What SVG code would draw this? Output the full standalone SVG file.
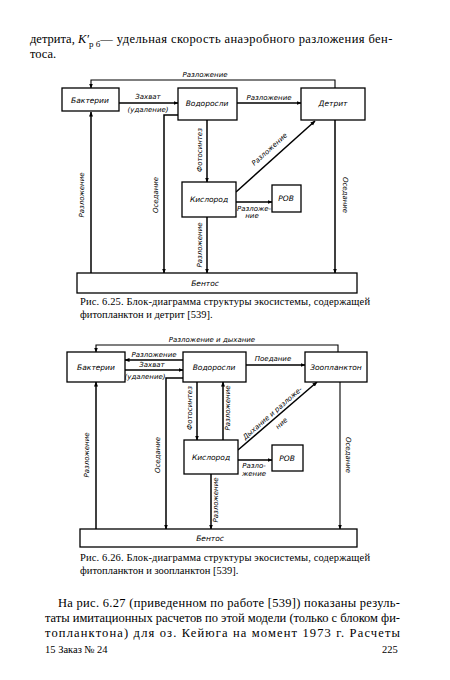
<svg xmlns="http://www.w3.org/2000/svg" width="450" height="680" viewBox="0 0 450 680">
<defs>
<marker id="ah" viewBox="0 0 10 10" refX="9" refY="5" markerWidth="5" markerHeight="5" orient="auto-start-reverse" markerUnits="userSpaceOnUse">
<path d="M0,1 L10,5 L0,9 z" fill="#000"/>
</marker>
<style>
.bg{fill:#fff}
.box{fill:#fff;stroke:#000;stroke-width:1.3}
.ln{fill:none;stroke:#000;stroke-width:1.5}
.lt{fill:none;stroke:#000;stroke-width:1.1}
.nt{font-family:"DejaVu Sans","Liberation Sans",sans-serif;font-style:italic;font-size:7.5px;text-anchor:middle;fill:#000}
.lb{font-family:"DejaVu Sans","Liberation Sans",sans-serif;font-style:italic;font-size:7px;text-anchor:middle;fill:#000}
.tx{font-family:"Liberation Serif","DejaVu Serif",serif;font-size:12.5px;fill:#000}
.cap{font-family:"Liberation Serif","DejaVu Serif",serif;font-size:10.5px;fill:#000}
</style>
</defs>
<rect class="bg" width="450" height="680"/>

<g id="text-top">
<text class="tx" x="30" y="43">детрита, <tspan font-style="italic">K′</tspan><tspan font-size="9" dy="4">р б</tspan><tspan dy="-4" textLength="292" lengthAdjust="spacing">— удельная скорость анаэробного разложения бен-</tspan></text>
<text class="tx" x="30" y="58">тоса.</text>
</g>

<!-- Diagram 1 -->
<g id="d1-connectors">
<polyline class="lt" points="335,88 335,80 91,80 91,88" marker-end="url(#ah)"/>
<line class="ln" x1="119" y1="103" x2="178" y2="103" marker-end="url(#ah)"/>
<line class="ln" x1="237" y1="103" x2="301" y2="103" marker-end="url(#ah)"/>
<polyline class="ln" points="178,115 164,115 164,273" marker-end="url(#ah)"/>
<line class="ln" x1="91" y1="273" x2="91" y2="112" marker-end="url(#ah)"/>
<line class="ln" x1="207" y1="120" x2="207" y2="182" marker-end="url(#ah)"/>
<line class="ln" x1="207" y1="217" x2="207" y2="273" marker-end="url(#ah)"/>
<line class="ln" x1="236" y1="202" x2="272" y2="202" marker-end="url(#ah)"/>
<line class="ln" x1="236" y1="192" x2="315" y2="121" marker-end="url(#ah)"/>
<line class="ln" x1="335" y1="120" x2="335" y2="273" marker-end="url(#ah)"/>
<text class="lb" x="205" y="77">Разложение</text>
<text class="lb" x="148" y="99">Захват</text>
<text class="lb" x="148" y="112">(удаление)</text>
<text class="lb" x="269" y="100">Разложение</text>
<text class="lb" transform="translate(84,195) rotate(-90)">Разложение</text>
<text class="lb" transform="translate(158,195) rotate(-90)">Оседание</text>
<text class="lb" transform="translate(202,150) rotate(-90)">Фотосинтез</text>
<text class="lb" transform="translate(202,245) rotate(-90)">Разложение</text>
<text class="lb" transform="translate(343,195) rotate(90)">Оседание</text>
<text class="lb" transform="translate(271,151) rotate(-42)">Разложение</text>
<text class="lb" x="254" y="211">Разложе-</text>
<text class="lb" x="252" y="218">ние</text>
</g>
<g id="d1-bacteria"><rect class="box" x="62" y="88" width="57" height="23"/><text class="nt" x="90" y="103">Бактерии</text></g>
<g id="d1-algae"><rect class="box" x="178" y="88" width="59" height="32"/><text class="nt" x="207" y="106">Водоросли</text></g>
<g id="d1-detritus"><rect class="box" x="301" y="88" width="64" height="32"/><text class="nt" x="333" y="106">Детрит</text></g>
<g id="d1-oxygen"><rect class="box" x="182" y="182" width="54" height="35"/><text class="nt" x="209" y="202">Кислород</text></g>
<g id="d1-rov"><rect class="box" x="272" y="185" width="29" height="27"/><text class="nt" x="286" y="201">РОВ</text></g>
<g id="d1-benthos"><rect class="box" x="77" y="273" width="280" height="20"/><text class="nt" x="205" y="286">Бентос</text></g>
<g id="caption1">
<text class="cap" x="80" y="305" textLength="290" lengthAdjust="spacing">Рис. 6.25. Блок-диаграмма структуры экосистемы, содержащей</text>
<text class="cap" x="80" y="318">фитопланктон и детрит [539].</text>
</g>

<!-- Diagram 2 -->
<g id="d2-connectors">
<polyline class="lt" points="338,352 338,345 96,345 96,352" marker-end="url(#ah)"/>
<line class="ln" x1="183" y1="360" x2="125" y2="360" marker-end="url(#ah)"/>
<line class="ln" x1="125" y1="370" x2="183" y2="370" marker-end="url(#ah)"/>
<line class="ln" x1="246" y1="365" x2="305" y2="365" marker-end="url(#ah)"/>
<polyline class="ln" points="183,378 166,378 166,529" marker-end="url(#ah)"/>
<line class="ln" x1="96" y1="529" x2="96" y2="382" marker-end="url(#ah)"/>
<line class="ln" x1="197" y1="382" x2="197" y2="440" marker-end="url(#ah)"/>
<line class="ln" x1="223" y1="440" x2="223" y2="382" marker-end="url(#ah)"/>
<line class="ln" x1="238" y1="460" x2="272" y2="460" marker-end="url(#ah)"/>
<line class="ln" x1="238" y1="450" x2="317" y2="382" marker-end="url(#ah)"/>
<line class="ln" x1="211" y1="474" x2="211" y2="529" marker-end="url(#ah)"/>
<line class="lt" x1="340" y1="382" x2="340" y2="529" marker-end="url(#ah)"/>
<text class="lb" x="212" y="342">Разложение и дыхание</text>
<text class="lb" x="154" y="357">Разложение</text>
<text class="lb" x="152" y="367">Захват</text>
<text class="lb" x="145" y="379" font-size="6">(удаление)</text>
<text class="lb" x="273" y="361">Поедание</text>
<text class="lb" transform="translate(89,455) rotate(-90)">Разложение</text>
<text class="lb" transform="translate(160,455) rotate(-90)">Оседание</text>
<text class="lb" transform="translate(192,408) rotate(-90)">Фотосинтез</text>
<text class="lb" transform="translate(230,408) rotate(-90)">Разложение</text>
<text class="lb" transform="translate(218,500) rotate(-90)">Разложение</text>
<text class="lb" transform="translate(346,455) rotate(90)">Оседание</text>
<text class="lb" transform="translate(274,415) rotate(-41)">Дыхание и разложе-</text>
<text class="lb" transform="translate(283,425) rotate(-41)">ние</text>
<text class="lb" x="254" y="468">Разло-</text>
<text class="lb" x="254" y="476">жение</text>
</g>
<g id="d2-bacteria"><rect class="box" x="67" y="352" width="58" height="30"/><text class="nt" x="96" y="370">Бактерии</text></g>
<g id="d2-algae"><rect class="box" x="183" y="352" width="63" height="30"/><text class="nt" x="214" y="370">Водоросли</text></g>
<g id="d2-zoo"><rect class="box" x="305" y="352" width="62" height="30"/><text class="nt" x="336" y="370">Зоопланктон</text></g>
<g id="d2-oxygen"><rect class="box" x="184" y="440" width="54" height="34"/><text class="nt" x="211" y="460">Кислород</text></g>
<g id="d2-rov"><rect class="box" x="272" y="445" width="31" height="26"/><text class="nt" x="287" y="461">РОВ</text></g>
<g id="d2-benthos"><rect class="box" x="80" y="529" width="277" height="18"/><text class="nt" x="210" y="541">Бентос</text></g>
<g id="caption2">
<text class="cap" x="80" y="561" textLength="290" lengthAdjust="spacing">Рис. 6.26. Блок-диаграмма структуры экосистемы, содержащей</text>
<text class="cap" x="80" y="574">фитопланктон и зоопланктон [539].</text>
</g>

<g id="text-bottom">
<text class="tx" x="58" y="607" textLength="342" lengthAdjust="spacing">На рис. 6.27 (приведенном по работе [539]) показаны резуль-</text>
<text class="tx" x="45" y="622" textLength="355" lengthAdjust="spacing">таты имитационных расчетов по этой модели (только с блоком фи-</text>
<text class="tx" x="45" y="637" textLength="355" lengthAdjust="spacing">топланктона) для оз. Кейюга на момент 1973 г. Расчеты</text>
<text class="cap" x="45" y="653">15  Заказ № 24</text>
<text class="cap" x="382" y="653">225</text>
</g>
</svg>
